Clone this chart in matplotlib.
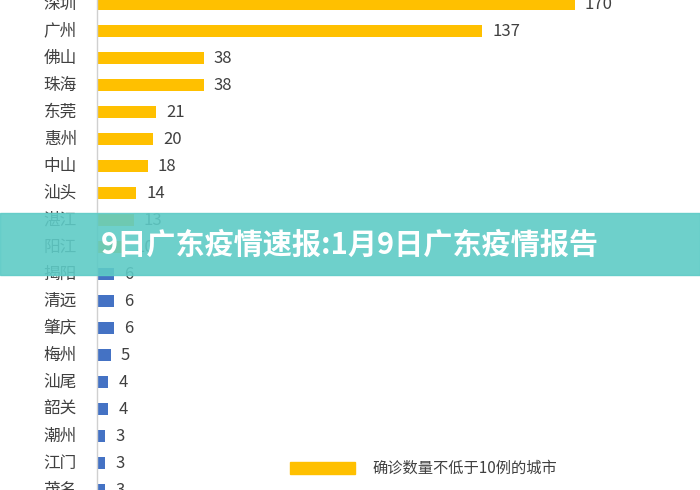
import matplotlib
matplotlib.use("Agg")
import matplotlib.pyplot as plt
from matplotlib.patches import Rectangle

plt.rcParams['font.family'] = ['Noto Sans CJK SC', 'DejaVu Sans']

cities = ["深圳","广州","佛山","珠海","东莞","惠州","中山","汕头","湛江","阳江",
          "揭阳","清远","肇庆","梅州","汕尾","韶关","潮州","江门","茂名"]
values = [170,137,38,38,21,20,18,14,13,10,6,6,6,5,4,4,3,3,3]
legend_text = "确诊数量不低于10例的城市"
banner_text = "9日广东疫情速报:1月9日广东疫情报告"

W, H = 700, 490
off = 4
fig = plt.figure(figsize=(7, 4.9), dpi=100)
ax = fig.add_axes([0, 0, 1, 1])
ppu = 385 / 137
ax.set_xlim(-97 / ppu, (W - 97) / ppu)
ax.set_ylim((H - off) / 27, -off / 27)
ax.axis('off')

colors = ["#FFC000" if v >= 10 else "#4472C4" for v in values]
ax.barh(range(len(cities)), values, height=0.45, color=colors)
ax.axvline(0, color="#d0d0d0", lw=1)
for i, (c, v) in enumerate(zip(cities, values)):
    ax.text(-20 / ppu, i, c, ha='right', va='center', fontsize=12, color="#404040")
    ax.text(v + 10 / ppu, i, str(v), ha='left', va='center', fontsize=12, color="#404040")

# legend
fig.patches.append(Rectangle((290 / W, 1 - 474 / H), 65 / W, 12 / H,
                             transform=fig.transFigure, color="#FFC000"))
fig.text(372 / W, 1 - 468 / H, legend_text, ha='left', va='center', fontsize=11, color="#404040")

# banner
fig.patches.append(Rectangle((0, 1 - 275 / H), 1, 62 / H, transform=fig.transFigure,
                             color="#5ECBC6", alpha=0.9, zorder=5))
fig.text(350 / W, 1 - 245 / H, banner_text, ha='center', va='center', fontsize=21,
         color='white', fontweight='bold', zorder=6)

fig.savefig("out.png", dpi=100)
